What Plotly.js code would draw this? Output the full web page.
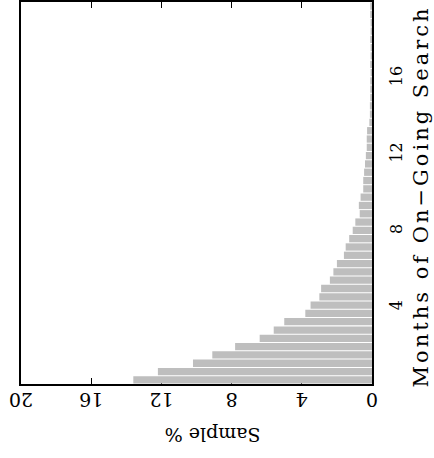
<!DOCTYPE html>
<html>
<head>
<meta charset="utf-8">
<script src="https://cdn.plot.ly/plotly-3.0.1.min.js"></script>
<style>
html,body{margin:0;padding:0;background:#fff;}
#chart{width:434px;height:458px;}
g.annotation[data-index="1"] text{letter-spacing:3px;}
</style>
</head>
<body>
<div id="chart"></div>
<script>
// Month bins (bin centres, months of on-going search)
const binMonths = [0.217, 0.652, 1.087, 1.522, 1.957, 2.391, 2.826, 3.261, 3.696, 4.130,
  4.565, 5.000, 5.435, 5.870, 6.304, 6.739, 7.174, 7.609, 8.043, 8.478,
  8.913, 9.348, 9.783, 10.217, 10.652, 11.087, 11.522, 11.957, 12.391, 12.826,
  13.261, 13.696, 14.130, 14.565, 15.000, 15.435, 15.870, 16.304, 16.739, 17.174,
  17.609, 18.043, 18.478, 18.913, 19.348, 19.783];
// Sample % in each bin
const samplePct = [13.6, 12.2, 10.2, 9.1, 7.8, 6.4, 5.6, 5.0, 3.8, 3.5,
  3.0, 2.9, 2.4, 2.2, 2.0, 1.6, 1.5, 1.3, 1.1, 0.95,
  0.7, 0.75, 0.65, 0.5, 0.5, 0.45, 0.4, 0.35, 0.3, 0.3,
  0.28, 0.15, 0.12, 0.12, 0.1, 0.1, 0.1, 0.08, 0.1, 0.08,
  0.08, 0.1, 0.08, 0.08, 0.1, 0.1];
const pctTicks = [0, 4, 8, 12, 16, 20];
const monthTicks = [4, 8, 12, 16];

const font = "DejaVu Serif, serif";

Plotly.newPlot('chart', [{
  type: 'bar',
  orientation: 'h',
  x: samplePct,
  y: binMonths,
  marker: {color: '#bebebe', line: {width: 0}},
  hoverinfo: 'skip'
}], {
  width: 434, height: 458,
  margin: {l: 21, r: 62, t: 2, b: 74},
  paper_bgcolor: '#fff', plot_bgcolor: '#fff',
  bargap: 0.12,
  showlegend: false,
  xaxis: {
    range: [20, 0], tickvals: pctTicks, ticktext: pctTicks.map(String),
    tickangle: 180, ticks: 'inside', ticklen: 6, tickwidth: 1, tickcolor: '#000',
    showline: true, linecolor: '#000', linewidth: 2, mirror: 'ticks',
    showgrid: false, zeroline: false, layer: 'below traces',
    ticklabelstandoff: 3,
    tickfont: {family: font, size: 19, color: '#000'}
  },
  yaxis: {
    range: [0, 20], side: 'right', tickvals: monthTicks, ticktext: monthTicks.map(String),
    tickangle: -90, ticks: '', showline: true, linecolor: '#000', linewidth: 2, mirror: true,
    showgrid: false, zeroline: false, layer: 'above traces',
    ticklabelstandoff: 9,
    tickfont: {family: font, size: 16, color: '#000'}
  },
  annotations: [
    {text: 'Sample %', xref: 'paper', yref: 'paper', x: 0.545, y: -0.134,
     xanchor: 'center', yanchor: 'middle', textangle: 180, showarrow: false,
     font: {family: font, size: 19, color: '#000'}},
    {text: 'Months of On\u2212Going Search', xref: 'paper', yref: 'paper', x: 1.14, y: 0.49,
     xanchor: 'center', yanchor: 'middle', textangle: -90, showarrow: false,
     font: {family: font, size: 21, color: '#000'}}
  ]
}, {displayModeBar: false, staticPlot: true});
</script>
</body>
</html>
